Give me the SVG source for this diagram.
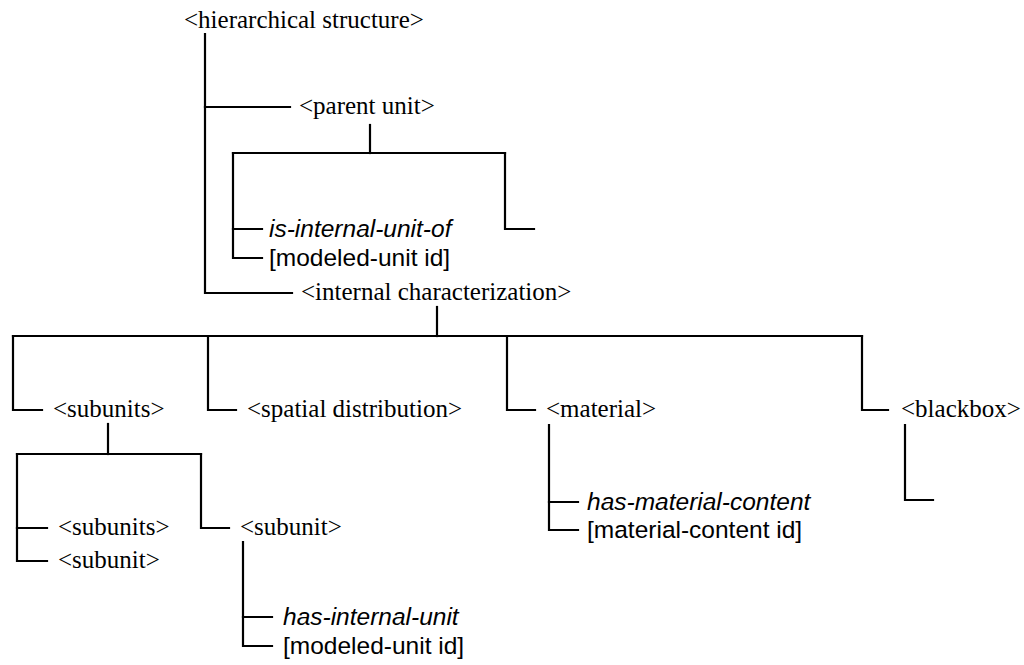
<svg xmlns="http://www.w3.org/2000/svg" width="1024" height="665" viewBox="0 0 1024 665">
<style>
.ln{fill:none;stroke:#000;stroke-width:2.2;stroke-linecap:square;stroke-linejoin:miter}
.t{font-family:"Liberation Serif","Times New Roman",serif;font-size:25px;fill:#000}
.a{font-family:"Liberation Sans",Arial,sans-serif;font-size:24.5px;fill:#000}
.i{font-style:italic}
</style>
<rect width="1024" height="665" fill="#fff"/>
<g id="connectors">
<path class="ln" d="M205,34 V293 H292"/>
<path class="ln" d="M205,107 H290"/>
<path class="ln" d="M370,125 V153"/>
<path class="ln" d="M233,153 H505"/>
<path class="ln" d="M233,153 V258 H262"/>
<path class="ln" d="M233,229 H262"/>
<path class="ln" d="M505,153 V229 H534"/>
<path class="ln" d="M437,307 V336"/>
<path class="ln" d="M13,336 H862"/>
<path class="ln" d="M13,336 V410 H42"/>
<path class="ln" d="M208,336 V410 H236"/>
<path class="ln" d="M507,336 V410 H535"/>
<path class="ln" d="M862,336 V410 H888"/>
<path class="ln" d="M108,424 V454"/>
<path class="ln" d="M17,454 H201"/>
<path class="ln" d="M17,454 V561 H47"/>
<path class="ln" d="M17,528 H47"/>
<path class="ln" d="M201,454 V528 H229"/>
<path class="ln" d="M243,542 V646 H272"/>
<path class="ln" d="M243,617 H272"/>
<path class="ln" d="M549,425 V530 H578"/>
<path class="ln" d="M549,502 H578"/>
<path class="ln" d="M905,425 V500 H933"/>
</g>
<g id="hierarchical-structure"><text class="t" x="184" y="28">&lt;hierarchical structure&gt;</text></g>
<g id="parent-unit"><text class="t" x="299" y="114">&lt;parent unit&gt;</text></g>
<g id="is-internal-unit-of"><text class="a i" x="269" y="237">is-internal-unit-of</text></g>
<g id="parent-modeled-unit-id"><text class="a" x="269" y="266">[modeled-unit id]</text></g>
<g id="internal-characterization"><text class="t" x="301" y="300">&lt;internal characterization&gt;</text></g>
<g id="subunits"><text class="t" x="53" y="417">&lt;subunits&gt;</text></g>
<g id="spatial-distribution"><text class="t" x="247" y="417">&lt;spatial distribution&gt;</text></g>
<g id="material"><text class="t" x="546" y="417">&lt;material&gt;</text></g>
<g id="blackbox"><text class="t" x="901" y="417">&lt;blackbox&gt;</text></g>
<g id="subunits-2"><text class="t" x="58" y="535">&lt;subunits&gt;</text></g>
<g id="subunit-1"><text class="t" x="58" y="568">&lt;subunit&gt;</text></g>
<g id="subunit-2"><text class="t" x="240" y="535">&lt;subunit&gt;</text></g>
<g id="has-internal-unit"><text class="a i" x="283" y="625">has-internal-unit</text></g>
<g id="subunit-modeled-unit-id"><text class="a" x="283" y="654">[modeled-unit id]</text></g>
<g id="has-material-content"><text class="a i" x="587" y="510">has-material-content</text></g>
<g id="material-content-id"><text class="a" x="587" y="538">[material-content id]</text></g>
</svg>
